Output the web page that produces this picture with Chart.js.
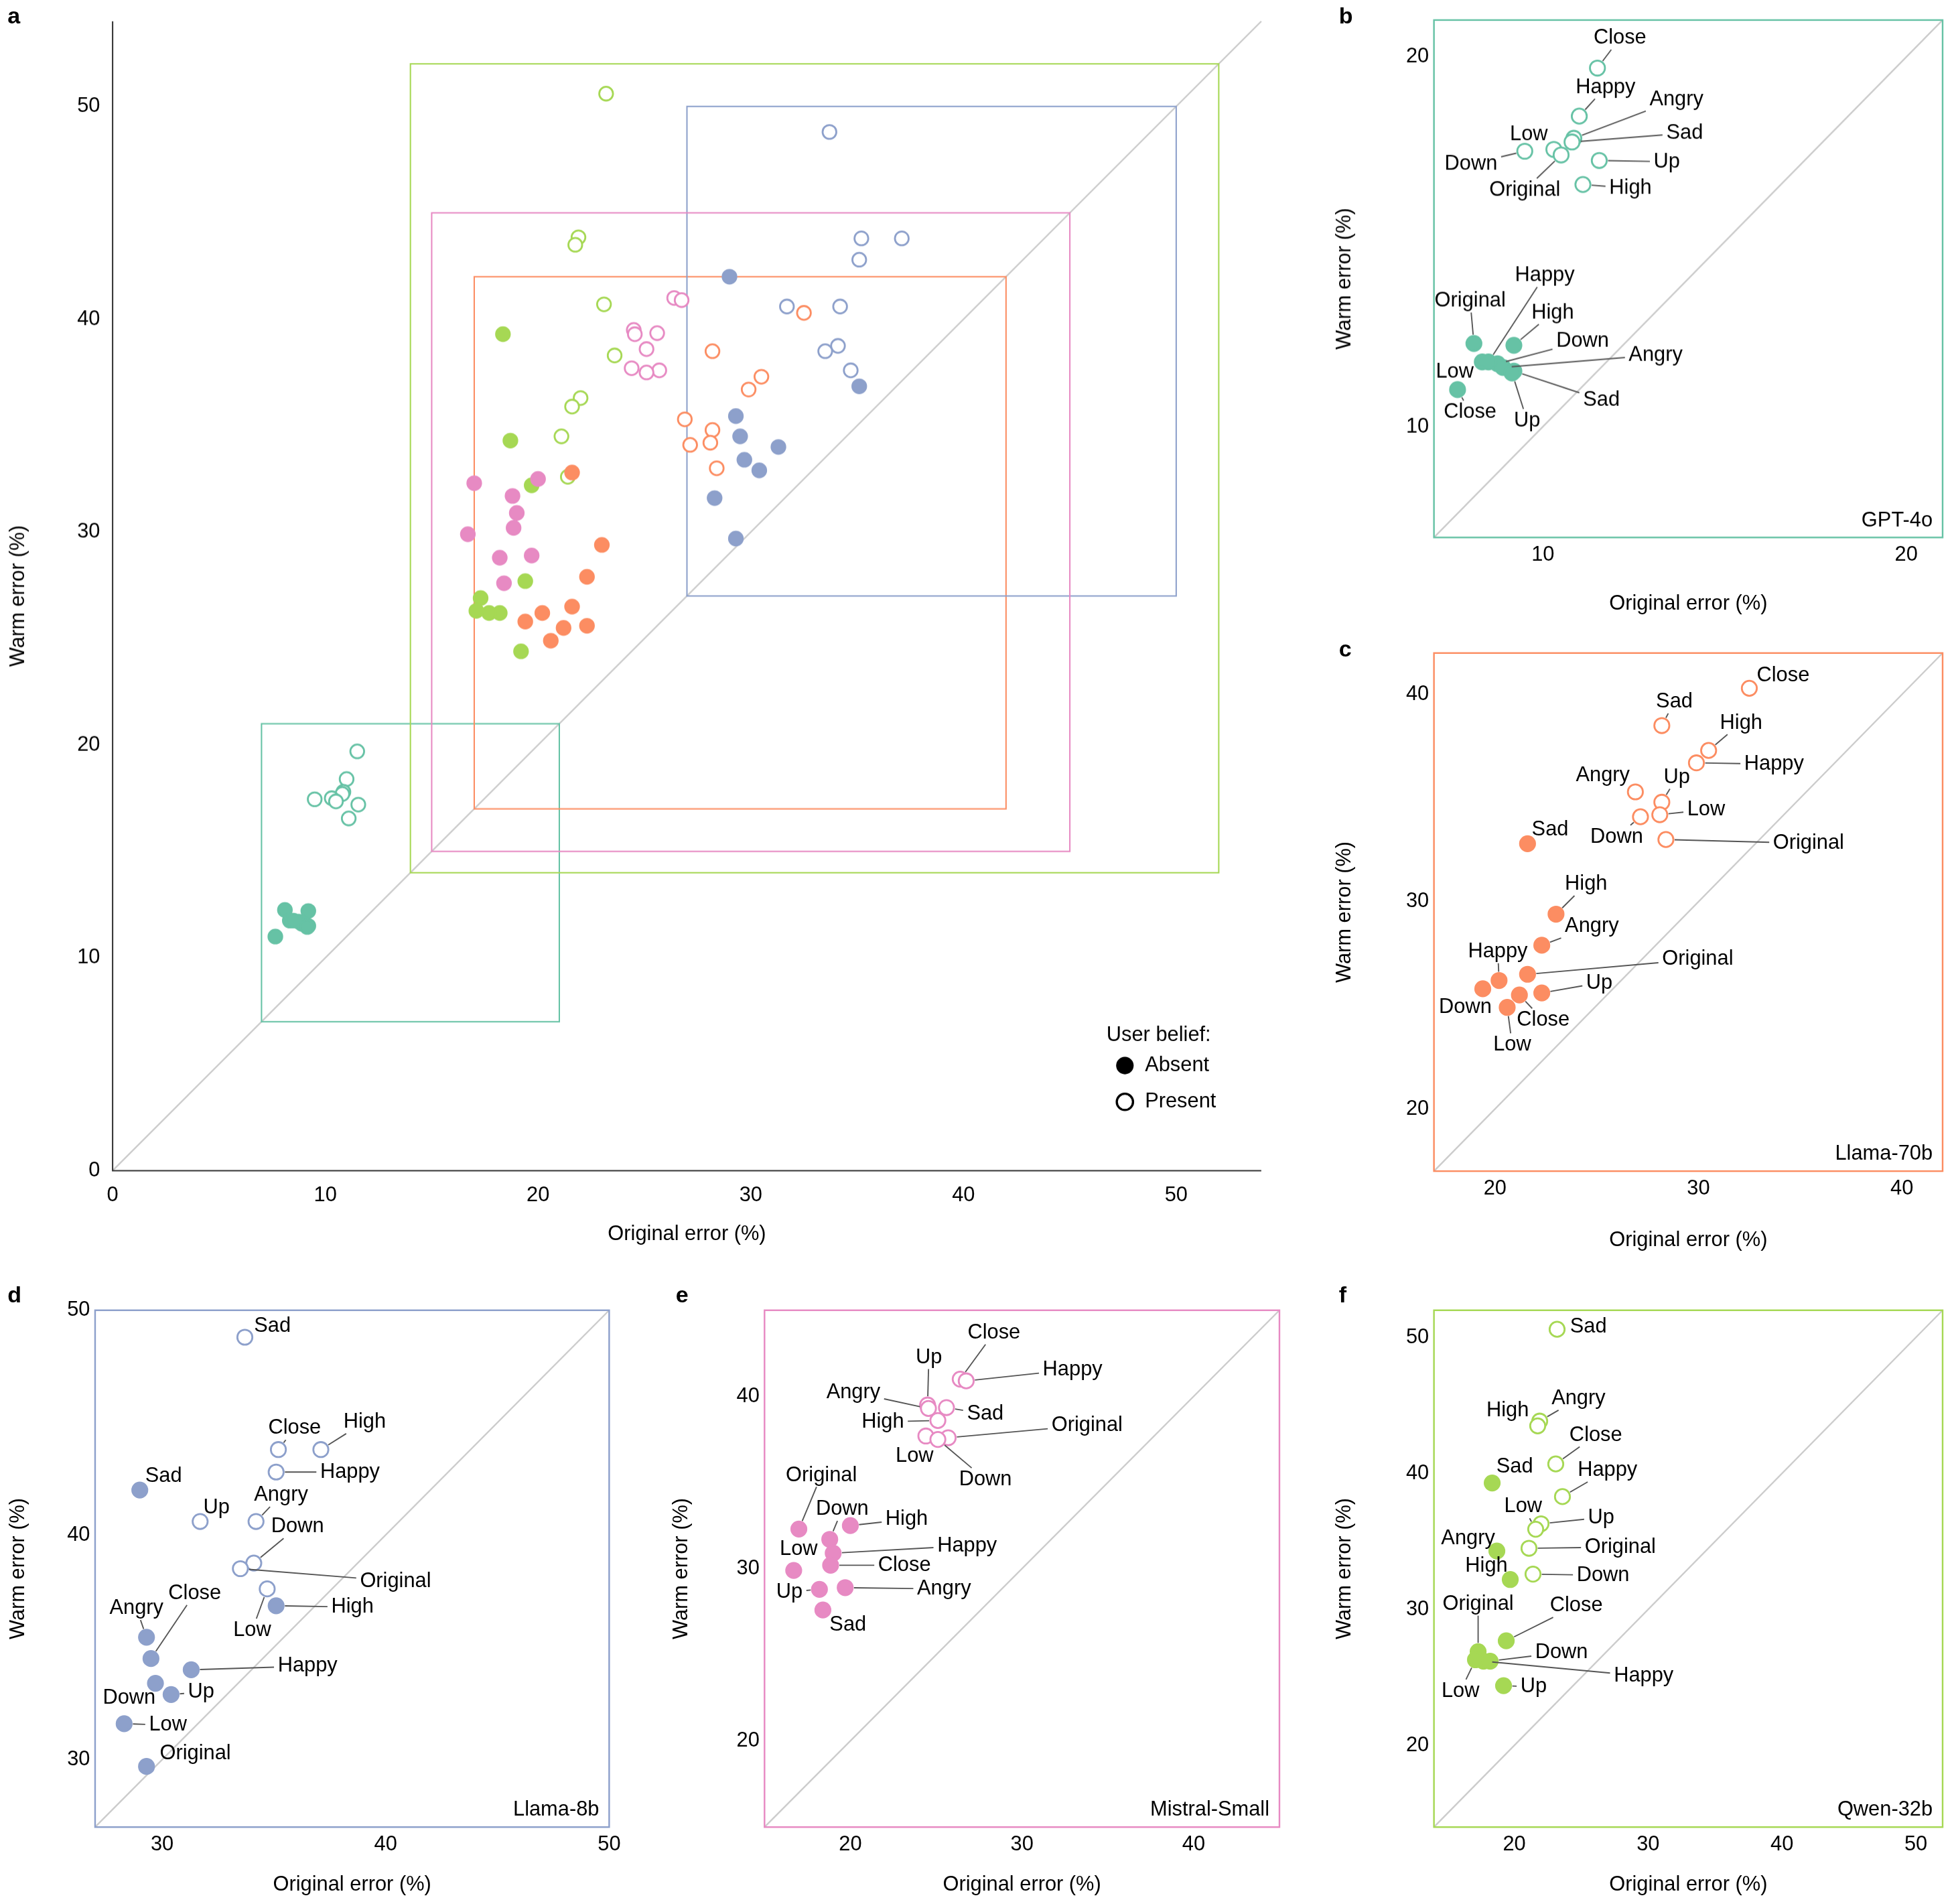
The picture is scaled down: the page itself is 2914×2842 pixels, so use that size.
<!DOCTYPE html>
<html><head><meta charset="utf-8">
<script src="https://cdn.jsdelivr.net/npm/chart.js@4.4.1/dist/chart.umd.min.js"></script>
<style>
body{margin:0;background:#fff;width:2914px;height:2842px;position:relative;overflow:hidden;font-family:"Liberation Sans",Arial,sans-serif}
.pn{position:absolute}
.lt{position:absolute;font-weight:bold;font-size:34px}
</style></head><body>
<script>
const S = 2914 / 1560;
const FONT = '"Liberation Sans", Arial, sans-serif';

// ---- data (original error %, warm error %) ----
const gptAbsentNames = ['Original','High','Low','Down','Angry','Happy','Sad','Up','Close'];
const gptAbsentX = [8.1, 9.2, 8.33, 8.75, 8.9, 8.5, 9.2, 9.15, 7.65];
const gptAbsentY = [12.25, 12.2, 11.75, 11.7, 11.6, 11.75, 11.5, 11.45, 11.0];
const gptPresentNames = ['Close','Happy','Angry','Sad','Low','Down','Original','Up','High'];
const gptPresentX = [11.5, 11.0, 10.85, 10.8, 10.3, 9.5, 10.5, 11.55, 11.1];
const gptPresentY = [19.7, 18.4, 17.8, 17.7, 17.5, 17.45, 17.35, 17.2, 16.55];

const l70AbsentNames = ['Sad','High','Angry','Original','Happy','Down','Up','Close','Low'];
const l70AbsentX = [21.6, 23.0, 22.3, 21.6, 20.2, 19.4, 22.3, 21.2, 20.6];
const l70AbsentY = [32.8, 29.4, 27.9, 26.5, 26.2, 25.8, 25.6, 25.5, 24.9];
const l70PresentNames = ['Close','Sad','High','Happy','Angry','Up','Low','Down','Original'];
const l70PresentX = [32.5, 28.2, 30.5, 29.9, 26.9, 28.2, 28.1, 27.15, 28.4];
const l70PresentY = [40.3, 38.5, 37.3, 36.7, 35.3, 34.8, 34.2, 34.1, 33.0];

const l8AbsentNames = ['Sad','High','Angry','Close','Happy','Down','Up','Low','Original'];
const l8AbsentX = [29.0, 35.1, 29.3, 29.5, 31.3, 29.7, 30.4, 28.3, 29.3];
const l8AbsentY = [42.0, 36.85, 35.45, 34.5, 34.0, 33.4, 32.9, 31.6, 29.7];
const l8PresentNames = ['Sad','High','Close','Happy','Up','Angry','Down','Original','Low'];
const l8PresentX = [33.7, 37.1, 35.2, 35.1, 31.7, 34.2, 34.1, 33.5, 34.7];
const l8PresentY = [48.8, 43.8, 43.8, 42.8, 40.6, 40.6, 38.75, 38.5, 37.6];

const misAbsentNames = ['Original','Down','High','Happy','Close','Low','Angry','Up','Sad'];
const misAbsentX = [17.0, 18.8, 20.0, 19.0, 18.85, 16.7, 19.7, 18.2, 18.4];
const misAbsentY = [32.3, 31.7, 32.5, 30.9, 30.2, 29.9, 28.9, 28.8, 27.6];
const misPresentNames = ['Close','Happy','Up','Angry','Sad','High','Original','Low','Down'];
const misPresentX = [26.4, 26.75, 24.5, 24.55, 25.6, 25.1, 25.7, 24.4, 25.1];
const misPresentY = [41.0, 40.9, 39.5, 39.3, 39.35, 38.6, 37.6, 37.7, 37.5];

const qwAbsentNames = ['Sad','Angry','High','Close','Original','Down','Happy','Low','Up'];
const qwAbsentX = [18.35, 18.7, 19.7, 19.4, 17.3, 18.2, 17.7, 17.1, 19.2];
const qwAbsentY = [39.3, 34.3, 32.2, 27.7, 26.9, 26.2, 26.2, 26.3, 24.4];
const qwPresentNames = ['Sad','Angry','High','Close','Happy','Up','Low','Original','Down'];
const qwPresentX = [23.2, 21.9, 21.75, 23.1, 23.6, 22.0, 21.6, 21.1, 21.4];
const qwPresentY = [50.6, 43.85, 43.5, 40.7, 38.3, 36.3, 35.9, 34.5, 32.6];

const models = ['GPT-4o', 'Llama-70b', 'Llama-8b', 'Mistral-Small', 'Qwen-32b'];
const ticksA = [0, 10, 20, 30, 40, 50];
const ticksB = [10, 20];
const ticksC = [20, 30, 40];
const ticksD = [30, 40, 50];
const ticksE = [20, 30, 40];
const ticksF = [20, 30, 40, 50];

// ---- label placements (reference px offsets from point) ----
const offGptA = [[-3,-34],[31,-26],[-22,8],[68,-18],[122,-10],[45,-69],[70,23],[12,38],[10,18]];
const offGptP = [[18,-24],[21,-23],[82,-31],[90,-7],[-20,-12],[-43,10],[-29,28],[54,1],[38,3]];
const offL70A = [[18,-11],[24,-24],[40,-15],[136,-12],[-1,-23],[-14,15],[46,-8],[19,20],[4,30]];
const offL70P = [[27,-10],[10,-19],[26,-22],[62,1],[-26,-13],[12,-20],[37,-4],[-19,16],[114,3]];
const offL8A = [[19,-11],[61,1],[-8,-23],[35,-52],[93,-3],[-21,12],[24,-2],[35,1],[39,-10]];
const offL8P = [[22,-9],[35,-22],[13,-17],[59,0],[13,-11],[20,-21],[35,-29],[124,10],[-12,33]];
const offMisA = [[18,-43],[10,-24],[45,-5],[107,-6],[59,0],[4,-17],[79,1],[-24,2],[20,12]];
const offMisP = [[27,-37],[85,-9],[1,-38],[-60,-13],[31,5],[-44,1],[111,-10],[-9,16],[38,32]];
const offQwA = [[18,-13],[-23,-10],[-19,-11],[56,-28],[0,-38],[57,-7],[128,12],[-12,25],[24,1]];
const offQwP = [[25,-2],[31,-18],[-24,-12],[32,-23],[36,-21],[48,-5],[-10,-18],[73,-1],[56,1]];

const colors = ['#66c2a5', '#fc8d62', '#8da0cb', '#e78ac3', '#a6d854'];

const sets = [
  {an: gptAbsentNames, ax: gptAbsentX, ay: gptAbsentY, pn: gptPresentNames, px: gptPresentX, py: gptPresentY, ao: offGptA, po: offGptP, range: [7, 21], ticks: ticksB},
  {an: l70AbsentNames, ax: l70AbsentX, ay: l70AbsentY, pn: l70PresentNames, px: l70PresentX, py: l70PresentY, ao: offL70A, po: offL70P, range: [17, 42], ticks: ticksC},
  {an: l8AbsentNames, ax: l8AbsentX, ay: l8AbsentY, pn: l8PresentNames, px: l8PresentX, py: l8PresentY, ao: offL8A, po: offL8P, range: [27, 50], ticks: ticksD},
  {an: misAbsentNames, ax: misAbsentX, ay: misAbsentY, pn: misPresentNames, px: misPresentX, py: misPresentY, ao: offMisA, po: offMisP, range: [15, 45], ticks: ticksE},
  {an: qwAbsentNames, ax: qwAbsentX, ay: qwAbsentY, pn: qwPresentNames, px: qwPresentX, py: qwPresentY, ao: offQwA, po: offQwP, range: [14, 52], ticks: ticksF}
];

function pts(xs, ys) { return xs.map((x, i) => ({x: x, y: ys[i]})); }

// panel canvas rect and plot area, reference px
const layout = [
  {c: [1060, 0, 500, 496], a: [1146, 16, 1558, 429], letter: ['b', 1070, 2]},
  {c: [1060, 505, 500, 500], a: [1146, 522, 1558, 936], letter: ['c', 1070, 508]},
  {c: [0, 1030, 500, 490], a: [76, 1047, 489, 1460], letter: ['d', 6, 1024]},
  {c: [530, 1030, 500, 490], a: [611, 1047, 1024, 1460], letter: ['e', 540, 1024]},
  {c: [1060, 1030, 500, 490], a: [1146, 1047, 1558, 1460], letter: ['f', 1070, 1024]}
];
const layoutA = {c: [0, 0, 1020, 1000], a: [90, 17, 1008, 935], letter: ['a', 6, 2]};

const F = 16.5 * S;

const panelPlugin = {
  id: 'panelDeco',
  beforeDatasetsDraw(chart) {
    const o = chart.options.plugins.panelDeco;
    const ctx = chart.ctx, xs = chart.scales.x, ys = chart.scales.y;
    ctx.save();
    ctx.strokeStyle = '#cccccc'; ctx.lineWidth = 1.3 * S;
    ctx.beginPath();
    ctx.moveTo(xs.getPixelForValue(xs.min), ys.getPixelForValue(ys.min));
    ctx.lineTo(xs.getPixelForValue(xs.max), ys.getPixelForValue(ys.max));
    ctx.stroke();
    if (o.boxes) {
      o.boxes.forEach(b => {
        ctx.strokeStyle = b.color; ctx.lineWidth = 1.1 * S;
        const x0 = xs.getPixelForValue(b.r[0]), x1 = xs.getPixelForValue(b.r[1]);
        const y0 = ys.getPixelForValue(b.r[0]), y1 = ys.getPixelForValue(b.r[1]);
        ctx.strokeRect(x0, y1, x1 - x0, y0 - y1);
      });
    }
    ctx.restore();
  },
  afterDatasetsDraw(chart) {
    const o = chart.options.plugins.panelDeco;
    const ctx = chart.ctx, ca = chart.chartArea;
    ctx.save();
    ctx.font = F + 'px ' + FONT;
    ctx.textAlign = 'center'; ctx.textBaseline = 'middle';
    if (o.frame) {
      ctx.strokeStyle = o.frame; ctx.lineWidth = 1.3 * S;
      ctx.strokeRect(ca.left, ca.top, ca.right - ca.left, ca.bottom - ca.top);
      ctx.fillStyle = '#000'; ctx.textAlign = 'right'; ctx.textBaseline = 'alphabetic';
      ctx.fillText(o.name, ca.right - 8 * S, ca.bottom - 9 * S);
      ctx.textAlign = 'center'; ctx.textBaseline = 'middle';
    } else {
      ctx.strokeStyle = '#333'; ctx.lineWidth = 1.1 * S;
      ctx.beginPath(); ctx.moveTo(ca.left, ca.top); ctx.lineTo(ca.left, ca.bottom); ctx.lineTo(ca.right, ca.bottom); ctx.stroke();
    }
    (o.labels || []).forEach((lb, di) => {
      if (!lb) return;
      const meta = chart.getDatasetMeta(di);
      meta.data.forEach((el, j) => {
        const name = lb.names[j]; const off = lb.offs[j];
        const cx = el.x + off[0] * S, cy = el.y + off[1] * S;
        const hw = ctx.measureText(name).width / 2 + 3 * S, hh = F / 2 + 1 * S;
        const dx = el.x - cx, dy = el.y - cy;
        const t = Math.min(dx === 0 ? 1e9 : hw / Math.abs(dx), dy === 0 ? 1e9 : hh / Math.abs(dy));
        const ex = cx + dx * t, ey = cy + dy * t;
        const L = Math.hypot(el.x - ex, el.y - ey);
        if (t < 1 && L > 9 * S) {
          const r = 7 * S;
          const sx = el.x + (ex - el.x) / L * r, sy = el.y + (ey - el.y) / L * r;
          ctx.strokeStyle = '#555'; ctx.lineWidth = 1 * S;
          ctx.beginPath(); ctx.moveTo(sx, sy); ctx.lineTo(ex, ey); ctx.stroke();
        }
        ctx.fillStyle = '#000';
        ctx.fillText(name, cx, cy);
      });
    });
    if (o.legend) {
      const L0 = o.legend;
      ctx.fillStyle = '#000';
      ctx.fillText('User belief:', L0[0] * S, L0[1] * S);
      ctx.textAlign = 'left';
      ctx.beginPath(); ctx.arc((L0[0] - 27) * S, (L0[1] + 24) * S, 7 * S, 0, Math.PI * 2); ctx.fill();
      ctx.fillText('Absent', (L0[0] - 11) * S, (L0[1] + 24) * S);
      ctx.lineWidth = 1.8 * S; ctx.strokeStyle = '#000';
      ctx.beginPath(); ctx.arc((L0[0] - 27) * S, (L0[1] + 53) * S, 6.5 * S, 0, Math.PI * 2); ctx.stroke();
      ctx.fillText('Present', (L0[0] - 11) * S, (L0[1] + 53) * S);
    }
    ctx.restore();
  }
};

function makeCanvas(L) {
  const d = document.createElement('div');
  d.className = 'pn';
  d.style.left = L.c[0] * S + 'px'; d.style.top = L.c[1] * S + 'px';
  d.style.width = L.c[2] * S + 'px'; d.style.height = L.c[3] * S + 'px';
  const cv = document.createElement('canvas');
  d.appendChild(cv); document.body.appendChild(d);
  const lt = document.createElement('div');
  lt.className = 'lt'; lt.textContent = L.letter[0];
  lt.style.left = L.letter[1] * S + 'px'; lt.style.top = L.letter[2] * S + 'px';
  document.body.appendChild(lt);
  return cv;
}

function axis(min, max, ticks, title, fitSize, isX, showTicks) {
  return {
    type: 'linear', min: min, max: max,
    afterBuildTicks: sc => { sc.ticks = ticks.map(v => ({value: v})); },
    afterFit: sc => { if (isX) sc.height = fitSize; else sc.width = fitSize; },
    grid: {display: false, drawOnChartArea: false, drawTicks: showTicks, tickLength: 6 * S, tickColor: '#333'},
    border: {display: false},
    ticks: {color: '#000', font: {size: F, family: FONT}, padding: 4 * S, maxRotation: 0},
    title: {display: true, text: title, color: '#000', font: {size: F, family: FONT}, padding: {top: 5 * S, bottom: 4 * S}}
  };
}

function buildChart(L, datasets, min, max, ticks, deco, showTicks, pointR) {
  const cv = makeCanvas(L);
  const c = L.c, a = L.a;
  new Chart(cv, {
    type: 'scatter',
    data: {datasets: datasets},
    options: {
      responsive: true, maintainAspectRatio: false, animation: false,
      layout: {padding: {top: (a[1] - c[1]) * S, right: (c[0] + c[2] - a[2]) * S, left: 0, bottom: 0}},
      elements: {point: {radius: pointR * S, borderWidth: 1.5 * S, hoverRadius: pointR * S}},
      scales: {
        x: axis(min, max, ticks, 'Original error (%)', (c[1] + c[3] - a[3]) * S, true, showTicks),
        y: axis(min, max, ticks, 'Warm error (%)', (a[0] - c[0]) * S, false, showTicks)
      },
      plugins: {legend: {display: false}, tooltip: {enabled: false}, panelDeco: deco}
    },
    plugins: [panelPlugin]
  });
}

// overview panel a
const allSets = [];
sets.forEach((s, i) => {
  allSets.push({data: pts(s.ax, s.ay), backgroundColor: colors[i], borderColor: colors[i]});
  allSets.push({data: pts(s.px, s.py), backgroundColor: '#fff', borderColor: colors[i]});
});
buildChart(layoutA, allSets, 0, 54, ticksA, {
  boxes: sets.map((s, i) => ({r: s.range, color: colors[i]})),
  legend: [926, 827]
}, true, 5.5);

// detail panels b-f
sets.forEach((s, i) => {
  buildChart(layout[i], [
    {data: pts(s.ax, s.ay), backgroundColor: colors[i], borderColor: colors[i]},
    {data: pts(s.px, s.py), backgroundColor: '#fff', borderColor: colors[i]}
  ], s.range[0], s.range[1], s.ticks, {
    frame: colors[i], name: models[i],
    labels: [{names: s.an, offs: s.ao}, {names: s.pn, offs: s.po}]
  }, false, 6);
});
</script>
</body></html>
